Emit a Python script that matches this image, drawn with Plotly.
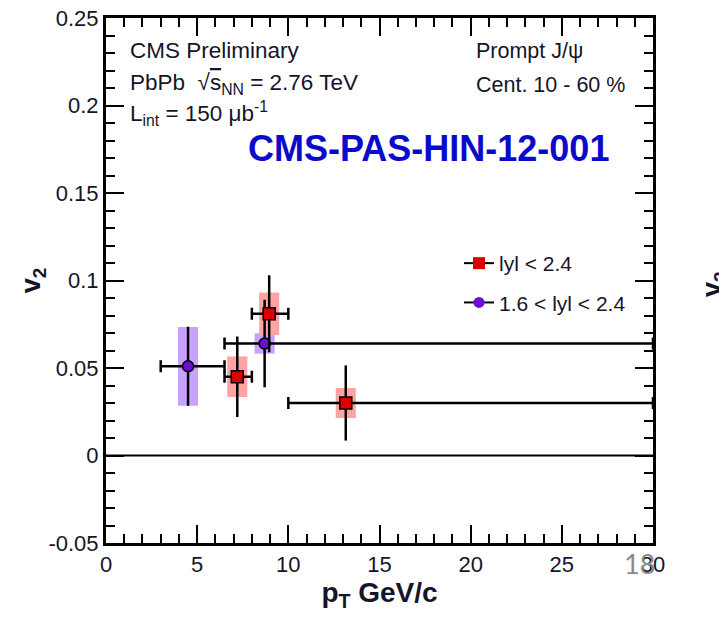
import plotly.graph_objects as go

# Data: |y| < 2.4 (red squares)
red_x = [7.2, 8.95, 13.15]
red_y = [0.045, 0.081, 0.030]
red_ey = [0.023, 0.022, 0.0215]
red_xlo = [6.5, 8.0, 10.0]
red_xhi = [8.0, 10.0, 30.0]
red_sys = [0.0116, 0.0122, 0.0086]

# Data: 1.6 < |y| < 2.4 (purple circles)
pur_x = [4.5, 8.7]
pur_y = [0.051, 0.064]
pur_ey = [0.0226, 0.025]
pur_xlo = [3.0, 6.5]
pur_xhi = [6.5, 30.0]
pur_sys = [0.0225, 0.0058]

x_ticks = [0, 5, 10, 15, 20, 25, 30]
y_ticks = [-0.05, 0, 0.05, 0.1, 0.15, 0.2, 0.25]
y_ticklabels = ["-0.05", "0", "0.05", "0.1", "0.15", "0.2", "0.25"]

FONT = "Liberation Sans, Arial, sans-serif"
TXT = "#15152a"
RED = "#dd0000"
PUR = "#6a0fd6"

fig = go.Figure()

# systematic boxes
fig.add_trace(go.Bar(x=pur_x, y=[2 * s for s in pur_sys],
                     base=[y - s for y, s in zip(pur_y, pur_sys)],
                     width=1.1, marker=dict(color="#c9a2ff", line=dict(width=0)),
                     showlegend=False, hoverinfo="skip"))
fig.add_trace(go.Bar(x=red_x, y=[2 * s for s in red_sys],
                     base=[y - s for y, s in zip(red_y, red_sys)],
                     width=1.1, marker=dict(color="#ffa3a3", line=dict(width=0)),
                     showlegend=False, hoverinfo="skip"))

def add_points(x, y, ey, xlo, xhi, color, symbol, size):
    fig.add_trace(go.Scatter(
        x=x, y=y, mode="markers", showlegend=False,
        marker=dict(color=color, symbol=symbol, size=size,
                    line=dict(color="black", width=1.5)),
        error_y=dict(type="data", array=ey, color="black", thickness=2.5, width=0),
        error_x=dict(type="data", array=[h - xv for h, xv in zip(xhi, x)],
                     arrayminus=[xv - l for l, xv in zip(xlo, x)],
                     color="black", thickness=2.5, width=6),
    ))

def add_legend(name, color, symbol, size, group):
    fig.add_trace(go.Scatter(
        x=[None], y=[None], mode="lines+markers", name=name, legendgroup=group,
        line=dict(color="black", width=2),
        marker=dict(color=color, symbol=symbol, size=size),
    ))

add_points(pur_x, pur_y, pur_ey, pur_xlo, pur_xhi, PUR, "circle", 11)
add_points(red_x, red_y, red_ey, red_xlo, red_xhi, RED, "square", 12)
add_legend("lyl < 2.4", RED, "square", 12, "a")
add_legend("1.6 < lyl < 2.4", PUR, "circle", 11, "b")

# zero line
fig.add_shape(type="line", xref="paper", x0=0, x1=1, yref="y", y0=0, y1=0,
              line=dict(color="black", width=2))

axis_common = dict(showline=True, linecolor="black", linewidth=3, mirror="allticks",
                   ticks="inside", ticklen=18, tickwidth=2, tickcolor="black",
                   showgrid=False, zeroline=False, automargin=False,
                   ticklabeloverflow="allow",
                   tickfont=dict(family=FONT, size=22, color=TXT))

fig.update_xaxes(range=[0, 30], tickvals=x_ticks, ticktext=[str(v) for v in x_ticks],
                 minor=dict(dtick=1, ticks="inside", ticklen=9, tickwidth=2, tickcolor="black"),
                 title=dict(text="<b>p<sub>T</sub> GeV/c</b>", font=dict(family=FONT, size=28, color=TXT),
                            standoff=6),
                 **axis_common)
fig.update_yaxes(range=[-0.05, 0.25], tickvals=y_ticks, ticktext=y_ticklabels,
                 minor=dict(dtick=0.01, tick0=0, ticks="inside", ticklen=9, tickwidth=2, tickcolor="black"),
                 title=dict(text="<b>v<sub>2</sub></b>", font=dict(family=FONT, size=27, color=TXT),
                            standoff=0),
                 **axis_common)

def ann(text, x, y, size, color=TXT, xanchor="left", family=FONT, **kw):
    fig.add_annotation(text=text, x=x, y=y, xref="paper", yref="paper",
                       xanchor=xanchor, yanchor="middle", showarrow=False,
                       font=dict(family=family, size=size, color=color), **kw)

# screen positions of the plot frame (page has an 8px body margin)
OFF = 8
W0, W1, H0, H1 = 106, 653, 18, 543
def px(xp):
    return (xp - W0) / (W1 - W0)
def py(yp):
    return (H1 - yp) / (H1 - H0)

ann("CMS Preliminary", px(128), py(50), 22.5)
ann("PbPb  √<span style='text-decoration:overline'>s</span><sub>NN</sub> = 2.76 TeV", px(128), py(84), 22.5)
ann("L<sub>int</sub> = 150 μb<sup>-1</sup>", px(128), py(114), 22.5)
ann("<b>CMS-PAS-HIN-12-001</b>", px(246), py(149), 36, color="#0a0acc")
ann("Prompt J/ψ", px(474), py(51), 21.5)
ann("Cent. 10 - 60 %", px(474), py(85), 21.5)
ann("18", px(639), py(563), 27, color="#8a8a8a", xanchor="center", family="Lato, Open Sans, sans-serif")
ann("<b>v<sub>2</sub></b>", px(714), py(284), 27, xanchor="center", textangle=-90)

fig.update_layout(
    width=727, height=617,
    margin=dict(l=W0 - OFF, r=727 - W1 + OFF, t=H0 - OFF, b=617 - H1 + OFF, autoexpand=False),
    paper_bgcolor="white", plot_bgcolor="white",
    barmode="overlay",
    font=dict(family=FONT, color=TXT),
    legend=dict(x=px(459), y=py(243), xanchor="left", yanchor="top",
                bgcolor="rgba(0,0,0,0)", font=dict(family=FONT, size=21, color=TXT),
                traceorder="grouped", itemwidth=30, tracegroupgap=9),
)

fig.write_html("out.html")
